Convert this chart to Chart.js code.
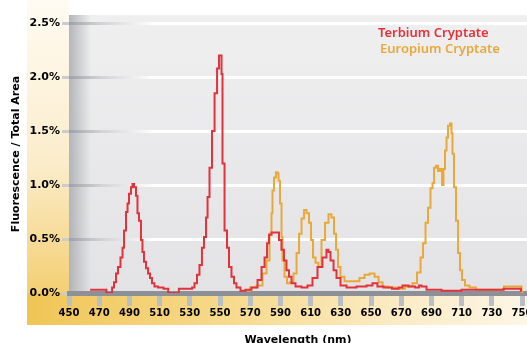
<!DOCTYPE html>
<html>
<head>
<meta charset="utf-8">
<script src="https://cdn.jsdelivr.net/npm/chart.js@4/dist/chart.umd.min.js"></script>
<style>
  html, body { margin: 0; padding: 0; width: 527px; height: 343px; overflow: hidden; background: #fff; }
  canvas { display: block; }
</style>
</head>
<body>
<canvas id="spectra" width="545" height="360"></canvas>
<script>
// Emission spectra, normalised to total area (%), wavelength in nm
const tbWavelength = [464, 474, 475.5, 478, 479.1, 480.5, 481.8, 483.1, 485.1, 485.8, 487.1, 488.4, 489.1, 490.4, 491.7, 492.4, 493.7, 495.0, 495.7, 497.0, 498.3, 499.0, 500.3, 501.7, 503.0, 504.3, 505.6, 507.6, 510.3, 514.9, 516.5, 522, 523.5, 531, 532.1, 534.1, 535.4, 537.4, 538.7, 540.1, 541.4, 542.1, 544.0, 545.4, 547.4, 548.7, 550.0, 550.7, 551.3, 552.0, 554.0, 555.3, 556.6, 558.6, 559.9, 561.9, 565.2, 568.5, 573.2, 576.5, 578.5, 580.5, 581.8, 583.1, 585.1, 588.4, 589.7, 591.7, 593.0, 595.0, 596.4, 598.3, 601.7, 606.3, 609.6, 612.9, 616.2, 619.5, 621.5, 622.2, 624.2, 626.2, 628.1, 631.5, 636.1, 644.7, 649.3, 652.6, 655.9, 660.6, 667.2, 669.2, 672.5, 677.2, 681.1, 682.5, 684.4, 689.1, 704.3, 715.6, 737, 738.5, 748.5, 750];
const tbSignal = [0.03, 0.03, 0, 0, 0.05, 0.10, 0.18, 0.24, 0.33, 0.42, 0.58, 0.75, 0.83, 0.92, 0.98, 1.01, 0.98, 0.90, 0.74, 0.67, 0.49, 0.38, 0.29, 0.23, 0.18, 0.14, 0.09, 0.06, 0.05, 0.04, 0, 0, 0.04, 0.04, 0.05, 0.09, 0.17, 0.26, 0.42, 0.52, 0.70, 0.89, 1.16, 1.50, 1.85, 2.08, 2.20, 2.20, 2.03, 1.20, 0.58, 0.42, 0.24, 0.15, 0.09, 0.05, 0.02, 0.03, 0.05, 0.12, 0.24, 0.33, 0.46, 0.54, 0.56, 0.56, 0.49, 0.40, 0.30, 0.21, 0.15, 0.09, 0.06, 0.05, 0.07, 0.14, 0.24, 0.33, 0.40, 0.38, 0.30, 0.21, 0.14, 0.07, 0.05, 0.06, 0.07, 0.09, 0.06, 0.05, 0.04, 0.05, 0.07, 0.06, 0.05, 0.07, 0.06, 0.03, 0.02, 0.03, 0.03, 0.04, 0.04, 0.02];

const euWavelength = [568, 571.9, 576.5, 579.8, 581.8, 583.8, 584.4, 585.1, 586.4, 587.7, 588.4, 589.1, 590.4, 591.1, 591.7, 593.7, 595.0, 597.7, 599.7, 601.7, 603.0, 605.0, 606.3, 608.3, 609.6, 610.9, 612.3, 614.2, 616.2, 618.2, 620.9, 622.8, 624.8, 626.2, 627.5, 628.8, 630.8, 634.1, 640.7, 644.0, 647.4, 650.7, 654.0, 656.0, 659.3, 663.9, 669.2, 675.8, 679.1, 681.8, 683.8, 685.1, 687.1, 688.4, 690.4, 691.1, 692.4, 693.7, 695.0, 696.4, 697.7, 698.3, 699.7, 700.3, 701.7, 703.0, 703.6, 704.3, 705.6, 707.0, 708.3, 709.6, 710.9, 713.6, 716.9, 722.2, 737.4, 738.7, 748.7, 750.7];
const euSignal = [0.02, 0.05, 0.07, 0.18, 0.30, 0.55, 0.74, 0.95, 1.07, 1.12, 1.11, 1.04, 0.83, 0.52, 0.30, 0.15, 0.09, 0.10, 0.18, 0.37, 0.55, 0.69, 0.77, 0.74, 0.65, 0.49, 0.33, 0.28, 0.24, 0.49, 0.65, 0.73, 0.70, 0.55, 0.40, 0.24, 0.15, 0.11, 0.11, 0.14, 0.17, 0.18, 0.15, 0.10, 0.06, 0.05, 0.04, 0.06, 0.09, 0.19, 0.33, 0.46, 0.65, 0.79, 0.97, 1.02, 1.16, 1.18, 1.13, 1.15, 1.00, 1.15, 1.32, 1.44, 1.55, 1.57, 1.48, 1.29, 0.98, 0.67, 0.37, 0.21, 0.12, 0.07, 0.05, 0.03, 0.03, 0.06, 0.06, 0.01];

const seriesNames = ['Terbium Cryptate', 'Europium Cryptate'];
const wavelengthTicks = [450, 470, 490, 510, 530, 550, 570, 590, 610, 630, 650, 670, 690, 710, 730, 750];
const signalTicks = [0, 0.5, 1.0, 1.5, 2.0, 2.5];

const RED = '#e2323c';
const GOLD = '#e9a93a';
const LABEL_FONT = 'DejaVu Sans';

const pairs = (xs, ys) => xs.map((x, i) => ({ x, y: ys[i] }));

// Panel backdrop: gold L-shaped frame and the grey plotting field
const backdrop = {
  id: 'backdrop',
  beforeDraw(chart) {
    const { ctx, chartArea: a } = chart;
    const frameLeft = 27, frameBottom = 325;
    ctx.save();
    ctx.fillStyle = '#ffffff';
    ctx.fillRect(0, 0, chart.width, chart.height);

    let g = ctx.createLinearGradient(0, 0, 0, frameBottom);
    g.addColorStop(0, '#fffbf3');
    g.addColorStop(0.5, '#fbedcb');
    g.addColorStop(1, '#f2c85e');
    ctx.fillStyle = g;
    ctx.fillRect(frameLeft, 0, a.left - frameLeft, frameBottom);

    g = ctx.createLinearGradient(frameLeft, 0, a.right, 0);
    g.addColorStop(0, '#f0c555');
    g.addColorStop(0.4, '#f6da8c');
    g.addColorStop(0.75, '#fbecc6');
    g.addColorStop(1, '#fdf6e6');
    ctx.fillStyle = g;
    ctx.fillRect(frameLeft, a.bottom, a.right - frameLeft, frameBottom - a.bottom);

    g = ctx.createLinearGradient(0, a.top, 0, a.bottom);
    g.addColorStop(0, '#efeff0');
    g.addColorStop(1, '#e3e3e5');
    ctx.fillStyle = g;
    ctx.fillRect(a.left, a.top, a.right - a.left, a.bottom - a.top);

    g = ctx.createLinearGradient(a.left, 0, a.left + 22, 0);
    g.addColorStop(0, 'rgba(160,163,168,0.75)');
    g.addColorStop(1, 'rgba(160,163,168,0)');
    ctx.fillStyle = g;
    ctx.fillRect(a.left, a.top, 22, a.bottom - a.top);
    ctx.restore();
  }
};

// Series names written in their line colours, top right of the plot
const seriesKey = {
  id: 'seriesKey',
  afterDraw(chart) {
    const { ctx, chartArea: a } = chart;
    ctx.save();
    ctx.font = '600 13px "Noto Sans"';
    ctx.textBaseline = 'middle';
    ctx.textAlign = 'left';
    chart.data.datasets.forEach((ds, i) => {
      ctx.fillStyle = ds.borderColor;
      ctx.fillText(ds.label, a.right - 149 + i * 2, a.top + 18 + i * 16);
    });
    ctx.restore();
  }
};

function gridShade(chart) {
  const a = chart.chartArea;
  if (!a) return '#ffffff';
  const g = chart.ctx.createLinearGradient(a.left, 0, a.left + 85, 0);
  g.addColorStop(0, '#9ea2a8');
  g.addColorStop(0.35, '#cfd0d3');
  g.addColorStop(1, '#ffffff');
  return g;
}

new Chart(document.getElementById('spectra'), {
  type: 'line',
  data: {
    datasets: [
      { label: seriesNames[0], data: pairs(tbWavelength, tbSignal), borderColor: RED, borderWidth: 2, pointRadius: 0, stepped: 'middle', fill: false },
      { label: seriesNames[1], data: pairs(euWavelength, euSignal), borderColor: GOLD, borderWidth: 2, pointRadius: 0, stepped: 'middle', fill: false }
    ]
  },
  options: {
    responsive: false,
    animation: false,
    layout: { padding: { top: 15, right: 18, left: 0, bottom: 0 } },
    plugins: { legend: { display: false }, tooltip: { enabled: false } },
    scales: {
      x: {
        type: 'linear',
        min: 450,
        max: 753.3,
        z: 1,
        afterBuildTicks: s => { s.ticks = wavelengthTicks.map(v => ({ value: v })); },
        afterFit: s => { s.height = 67; },
        grid: { drawOnChartArea: false, drawTicks: true, tickLength: 13, tickWidth: 5, tickColor: '#b9bfc6' },
        border: { display: true, color: '#8d9197', width: 5 },
        ticks: { maxRotation: 0, autoSkip: false, padding: 1, color: '#000', font: { family: LABEL_FONT, size: 10, weight: 'bold' } },
        title: { display: true, text: 'Wavelength (nm)', color: '#000', font: { family: LABEL_FONT, size: 11, weight: 'bold' }, padding: { top: 0, bottom: 13 } }
      },
      y: {
        min: 0,
        max: 2.576,
        afterBuildTicks: s => { s.ticks = signalTicks.map(v => ({ value: v })); },
        afterFit: s => { s.width = 69; },
        grid: { color: c => gridShade(c.chart), lineWidth: 3, drawTicks: true, tickLength: 7, tickWidth: 3, tickColor: '#c9cdd2' },
        border: { display: false },
        ticks: { padding: 2, color: '#000', font: { family: LABEL_FONT, size: 11, weight: 'bold' }, callback: v => v.toFixed(1) + '%' },
        title: { display: true, text: 'Fluorescence / Total Area', color: '#000', font: { family: LABEL_FONT, size: 11, weight: 'bold' }, padding: { top: 10, bottom: 0 } }
      }
    }
  },
  plugins: [backdrop, seriesKey]
});
</script>
</body>
</html>
